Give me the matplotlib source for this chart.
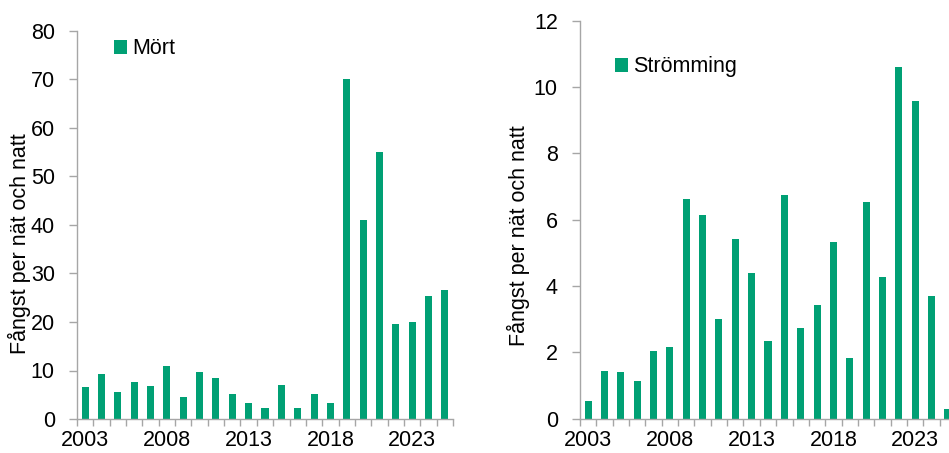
import numpy as np
import matplotlib.pyplot as plt

plt.rcParams['font.family'] = ['Liberation Sans', 'DejaVu Sans']

years = list(range(2003, 2026))
mort = [6.6, 9.3, 5.5, 7.6, 6.8, 11.0, 4.5, 9.6, 8.5, 5.1, 3.4, 2.2,
        7.1, 2.3, 5.2, 3.4, 70.2, 41.1, 55.0, 19.5, 19.9, 25.4, 26.7]
stromming = [0.53, 1.44, 1.40, 1.14, 2.04, 2.17, 6.62, 6.13, 3.0, 5.43, 4.39, 2.33,
             6.73, 2.73, 3.44, 5.33, 1.83, 6.53, 4.27, 10.6, 9.57, 3.69, 0.29]
label_years = [2003, 2008, 2013, 2018, 2023]

GREEN = '#00A074'
AXIS_GRAY = '#A6A6A6'
W, H = 949, 453
FS = 15.5


def draw_panel(ax, values, name, ymax, ystep, leg_pos, ylab_pos):
    x = np.arange(len(years))
    ax.bar(x, values, width=0.43, color=GREEN, label=name)
    ax.set_xlim(-0.5, len(years) - 0.5)
    ax.set_ylim(0, ymax)
    ax.set_yticks(np.arange(0, ymax + ystep / 2, ystep))

    # category axis: ticks between categories, labels every 5 years
    ax.set_xticks(np.arange(-0.5, len(years)))
    ax.set_xticklabels([])
    ax.set_xticks([years.index(y) for y in label_years], minor=True)
    ax.set_xticklabels([str(y) for y in label_years], minor=True)
    ax.tick_params(axis='x', which='major', length=5, color=AXIS_GRAY, width=1)
    ax.tick_params(axis='x', which='minor', length=0, labelsize=FS, pad=8)
    ax.tick_params(axis='y', length=6, color=AXIS_GRAY, width=1, labelsize=FS, pad=10)

    for s in ['top', 'right']:
        ax.spines[s].set_visible(False)
    for s in ['left', 'bottom']:
        ax.spines[s].set_color(AXIS_GRAY)
        ax.spines[s].set_linewidth(1)

    ax.set_ylabel('Fångst per nät och natt', fontsize=FS, va='center')
    ax.yaxis.set_label_coords(*ylab_pos)
    ax.legend(loc='center left', bbox_to_anchor=leg_pos, frameon=False,
              fontsize=FS, handlelength=0.6, handleheight=0.6,
              handletextpad=0.25, borderpad=0, borderaxespad=0)


fig = plt.figure(figsize=(W / 100, H / 100), dpi=100)
ax1 = fig.add_axes([77 / W, (H - 419) / H, 376 / W, 388 / H])
ax2 = fig.add_axes([580 / W, (H - 418.7) / H, 376 / W, 398 / H])

draw_panel(ax1, mort, 'Mört', 80, 10, (0.098, 0.954), (-0.152, 0.451))
draw_panel(ax2, stromming, 'Strömming', 12, 2, (0.093, 0.884), (-0.165, 0.459))

fig.savefig('out.png', dpi=100)
